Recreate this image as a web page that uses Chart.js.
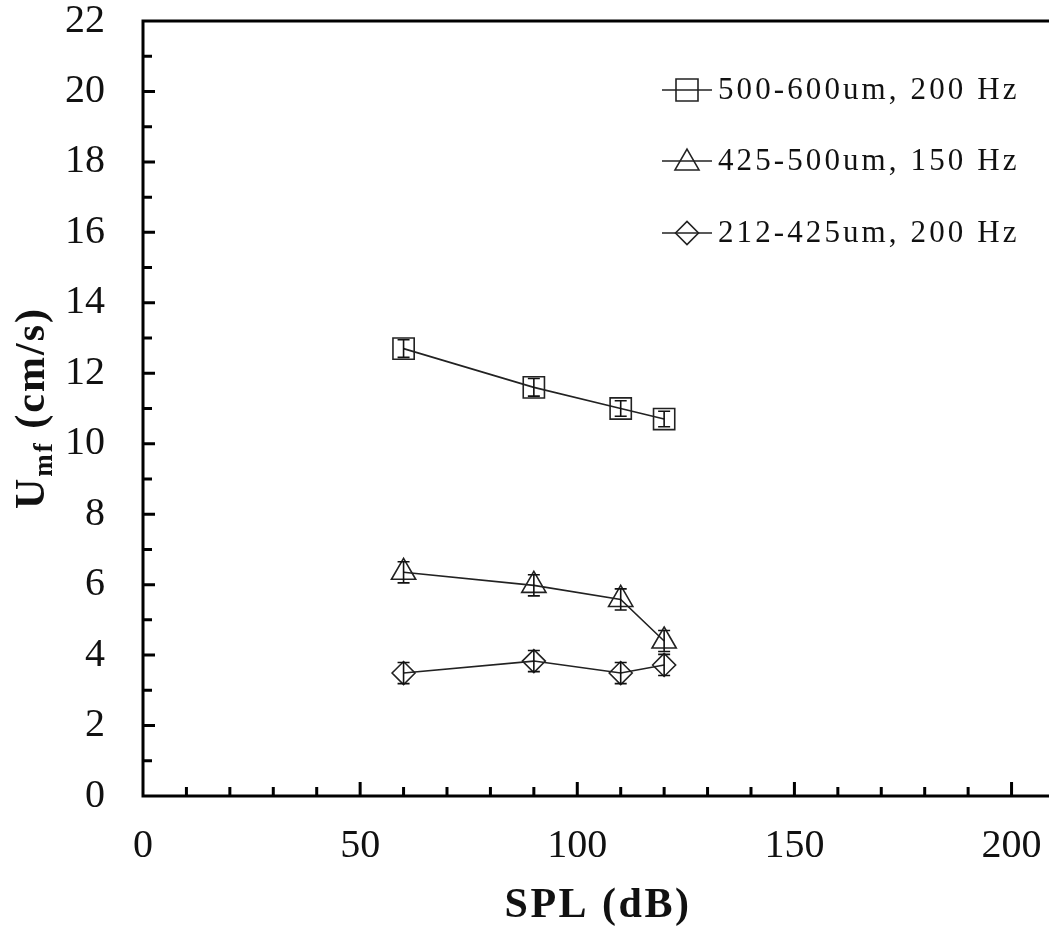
<!DOCTYPE html>
<html>
<head>
<meta charset="utf-8">
<script src="https://cdn.jsdelivr.net/npm/chart.js@4/dist/chart.umd.min.js"></script>
<style>
  html, body { margin: 0; padding: 0; background: #fff; }
  #wrap { width: 1049px; height: 930px; }
</style>
</head>
<body>
<div id="wrap"><canvas id="c" width="1049" height="930"></canvas></div>
<script>
// ---- data ----
const splValues = [60, 90, 110, 120];
const seriesLabels = ['500-600um, 200 Hz', '425-500um, 150 Hz', '212-425um, 200 Hz'];
const umf500 = [12.7, 11.6, 11.0, 10.7];
const err500 = [0.25, 0.25, 0.22, 0.22];
const umf425 = [6.35, 5.98, 5.58, 4.4];
const err425 = [0.3, 0.3, 0.3, 0.3];
const umf212 = [3.49, 3.83, 3.49, 3.72];
const err212 = [0.3, 0.3, 0.3, 0.3];
const xTickLabels = [0, 50, 100, 150, 200];
const yTickLabels = [0, 2, 4, 6, 8, 10, 12, 14, 16, 18, 20, 22];

const SERIF = '"Liberation Serif", "Times New Roman", serif';
const INK = '#111';

function toPoints(xs, ys) { return xs.map((x, i) => ({ x: x, y: ys[i] })); }

const styles = [
  { pointStyle: 'rect', radius: 15 },
  { pointStyle: 'triangle', radius: 14 },
  { pointStyle: 'rectRot', radius: 11.5 }
];
const errs = [err500, err425, err212];

function ds(label, ys, i) {
  return {
    label: label,
    data: toPoints(splValues, ys),
    borderColor: '#222',
    borderWidth: 1.6,
    backgroundColor: 'rgba(0,0,0,0)',
    pointStyle: styles[i].pointStyle,
    pointRadius: styles[i].radius,
    pointBorderColor: '#222',
    pointBorderWidth: 1.6,
    pointBackgroundColor: 'rgba(0,0,0,0)',
    tension: 0,
    fill: false
  };
}

function drawMarker(ctx, style, x, y, size) {
  ctx.beginPath();
  if (style === 'rect') {
    ctx.rect(x - size / 2, y - size / 2, size, size);
  } else if (style === 'triangle') {
    const r = size / 1.732;
    ctx.moveTo(x, y - r);
    ctx.lineTo(x + size / 2, y + r / 2);
    ctx.lineTo(x - size / 2, y + r / 2);
    ctx.closePath();
  } else {
    ctx.moveTo(x - size / 2, y);
    ctx.lineTo(x, y - size / 2);
    ctx.lineTo(x + size / 2, y);
    ctx.lineTo(x, y + size / 2);
    ctx.closePath();
  }
  ctx.stroke();
}

const decor = {
  id: 'decor',
  afterDatasetsDraw(chart) {
    const ctx = chart.ctx;
    const xs = chart.scales.x, ys = chart.scales.y;
    // error bars
    ctx.save();
    ctx.strokeStyle = '#111';
    ctx.lineWidth = 1.6;
    chart.data.datasets.forEach((d, di) => {
      const meta = chart.getDatasetMeta(di);
      meta.data.forEach((pt, i) => {
        const v = d.data[i].y, e = errs[di][i];
        const yt = ys.getPixelForValue(v + e), yb = ys.getPixelForValue(v - e);
        const x = pt.x;
        ctx.beginPath();
        ctx.moveTo(x, yt); ctx.lineTo(x, yb);
        ctx.moveTo(x - 6, yt); ctx.lineTo(x + 6, yt);
        ctx.moveTo(x - 6, yb); ctx.lineTo(x + 6, yb);
        ctx.stroke();
      });
    });
    ctx.restore();

    // axes frame & inside ticks
    const left = xs.getPixelForValue(0);
    const bottom = ys.getPixelForValue(0);
    const top = ys.getPixelForValue(22);
    const right = chart.width;
    ctx.save();
    ctx.strokeStyle = '#000';
    ctx.lineWidth = 3;
    ctx.lineCap = 'square';
    ctx.beginPath();
    ctx.moveTo(right + 2, top);
    ctx.lineTo(left, top);
    ctx.lineTo(left, bottom);
    ctx.lineTo(right + 2, bottom);
    ctx.stroke();
    ctx.lineCap = 'butt';
    ctx.beginPath();
    for (let v = 1; v < 22; v++) {
      const y = ys.getPixelForValue(v);
      const len = (v % 2 === 0) ? 12 : 9;
      ctx.moveTo(left, y); ctx.lineTo(left + len, y);
    }
    for (let v = 10; v <= 200; v += 10) {
      const x = xs.getPixelForValue(v);
      const len = (v % 50 === 0) ? 14 : 9;
      ctx.moveTo(x, bottom); ctx.lineTo(x, bottom - len);
    }
    ctx.stroke();
    ctx.restore();

    // legend
    ctx.save();
    const rows = [90, 161, 233];
    const mSizes = [22, 24, 23];
    rows.forEach((ry, i) => {
      ctx.strokeStyle = '#222';
      ctx.lineWidth = 1.6;
      ctx.beginPath();
      ctx.moveTo(662, ry); ctx.lineTo(712, ry);
      ctx.stroke();
      const my = styles[i].pointStyle === 'triangle' ? ry + 2 : ry;
      drawMarker(ctx, styles[i].pointStyle, 687, my, mSizes[i]);
      ctx.fillStyle = INK;
      ctx.font = '31px ' + SERIF;
      try { ctx.letterSpacing = '3.1px'; } catch (e) {}
      ctx.textBaseline = 'middle';
      ctx.textAlign = 'left';
      ctx.fillText(seriesLabels[i], 718, ry + 1);
    });
    ctx.restore();

    // axis titles
    ctx.save();
    ctx.fillStyle = INK;
    ctx.font = 'bold 42px ' + SERIF;
    try { ctx.letterSpacing = '2.5px'; } catch (e) {}
    ctx.textAlign = 'center';
    ctx.textBaseline = 'alphabetic';
    ctx.fillText('SPL (dB)', 598, 917);
    ctx.restore();

    ctx.save();
    ctx.fillStyle = INK;
    ctx.translate(44, 408);
    ctx.rotate(-Math.PI / 2);
    try { ctx.letterSpacing = '2px'; } catch (e) {}
    ctx.textBaseline = 'alphabetic';
    ctx.textAlign = 'left';
    const big = 'bold 42px ' + SERIF, small = 'bold 27px ' + SERIF;
    ctx.font = big; const wU = ctx.measureText('U').width;
    ctx.font = small; const wS = ctx.measureText('mf').width;
    ctx.font = big; const wR = ctx.measureText(' (cm/s)').width;
    let x0 = -(wU + wS + wR) / 2;
    ctx.font = big; ctx.fillText('U', x0, 0); x0 += wU;
    ctx.font = small; ctx.fillText('mf', x0, 8); x0 += wS;
    ctx.font = big; ctx.fillText(' (cm/s)', x0, 0);
    ctx.restore();
  }
};

new Chart(document.getElementById('c'), {
  type: 'line',
  data: {
    datasets: [
      ds(seriesLabels[0], umf500, 0),
      ds(seriesLabels[1], umf425, 1),
      ds(seriesLabels[2], umf212, 2)
    ]
  },
  options: {
    responsive: false,
    animation: false,
    events: [],
    layout: { padding: { top: 21, right: 0, left: 0, bottom: 0 } },
    plugins: { legend: { display: false }, tooltip: { enabled: false }, title: { display: false } },
    scales: {
      x: {
        type: 'linear',
        min: 0,
        max: 204.8,
        grid: { display: false, drawTicks: false },
        border: { display: false },
        ticks: {
          stepSize: 10,
          includeBounds: false,
          autoSkip: false,
          maxRotation: 0,
          padding: 26,
          color: INK,
          font: { family: SERIF, size: 40 },
          callback: (v) => xTickLabels.includes(v) ? String(v) : ''
        },
        afterFit: (s) => { s.height = 134; s.paddingLeft = 0; s.paddingRight = 0; }
      },
      y: {
        type: 'linear',
        min: 0,
        max: 22,
        grid: { display: false, drawTicks: false },
        border: { display: false },
        ticks: {
          stepSize: 1,
          autoSkip: false,
          padding: 38,
          color: INK,
          font: { family: SERIF, size: 40 },
          callback: (v) => yTickLabels.includes(v) ? String(v) : ''
        },
        afterFit: (s) => { s.width = 143; s.paddingTop = 0; s.paddingBottom = 0; }
      }
    }
  },
  plugins: [decor]
});
</script>
</body>
</html>
